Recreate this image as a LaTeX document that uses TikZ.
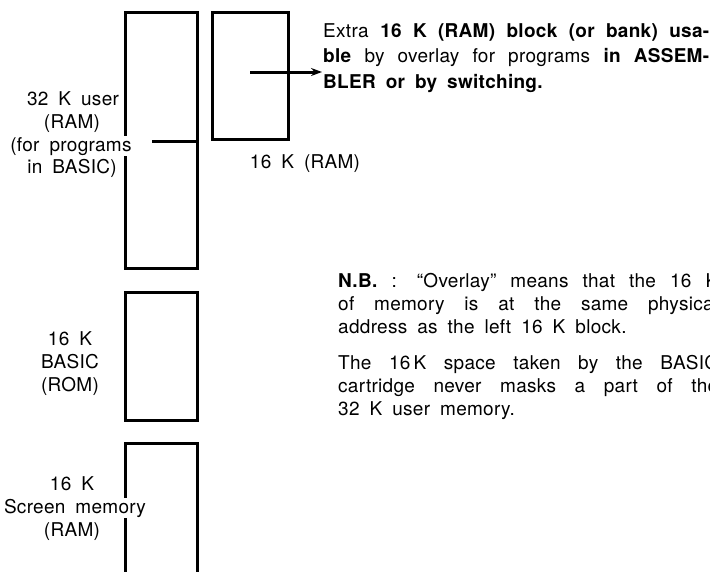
\documentclass[tikz,border=0pt]{standalone}
\usepackage{fontspec}
\setmainfont{TeX Gyre Heros}[LetterSpace=1.5,WordSpace=1.8]
\usetikzlibrary{arrows.meta}
\begin{document}
\begin{tikzpicture}[x=1pt,y=-1pt,
  blk/.style={draw, line width=3pt, inner sep=0pt, outer sep=0pt},
  lbl/.style={font=\fontsize{19}{23}\selectfont, fill=white, inner sep=1pt, anchor=base},
  conn/.style={line width=3pt},
  para/.style={font=\fontsize{19}{23}\selectfont, inner sep=0pt, anchor=base west, align=justify},
  ]
\useasboundingbox (0,0) rectangle (710,571);
\fill[white] (0,0) rectangle (710,571);

% memory blocks
\node[blk, minimum width=72pt, minimum height=256pt] (ram32) at (161,140) {};
\node[blk, minimum width=76pt, minimum height=127pt] (ram16) at (250,75.5) {};
\node[blk, minimum width=72pt, minimum height=128pt] (rom) at (161,356) {};
\coordinate (scrBL) at (125,580);
\coordinate (scrTL) at (125,443);
\coordinate (scrTR) at (197,443);
\coordinate (scrBR) at (197,580);
\draw[line width=3pt] (scrBL) -- (scrTL) -- (scrTR) -- (scrBR);

% overlay divider inside 32 K block
\coordinate (divL) at (152,141);
\draw[conn] (divL) -- (ram32.east |- divL);

% left labels
\node[lbl] (l1) at (73,105) {32 K user};
\node[lbl] (l2) at (72,128) {(RAM)};
\node[lbl] (l3) at (71,151) {(for programs};
\node[lbl] (l4) at (72,173) {in BASIC)};

\node[lbl] (b1) at (70,345) {16 K};
\node[lbl] (b2) at (70,368) {BASIC};
\node[lbl] (b3) at (70,391) {(ROM)};

\node[lbl] (s1) at (72,490) {16 K};
\node[lbl] (s2) at (75,513) {Screen memory};
\node[lbl] (s3) at (72,536) {(RAM)};

\node[lbl] (r16) at (305,168) {16 K (RAM)};

% extra block text and arrow
\node[para, font=\fontsize{19}{25.5}\selectfont, text width=386pt] (extra) at (323,37)
  {Extra \textbf{16 K (RAM) block (or bank) usa-}\linebreak
   \textbf{ble} by overlay for programs \textbf{in ASSEM-}\linebreak
   \textbf{BLER or by switching.}};
\coordinate (arrS) at (250,72);
\coordinate (arrE) at (322,72);
\draw[conn, -{Stealth[length=11pt,width=8pt]}] (arrS) -- (arrE);

% N.B. notes
\begin{scope}
\clip (0,0) rectangle (710,571);
\node[para, text width=380pt] (nb1) at (338,287)
  {\textbf{N.B.} : ``Overlay'' means that the 16~K\linebreak
   of memory is at the same physical\linebreak
   address as the left 16~K block.};
\node[para, text width=380pt] (nb2) at (338,369)
  {The 16\,K space taken by the BASIC\linebreak
   cartridge never masks a part of the\linebreak
   32~K user memory.};
\end{scope}
\end{tikzpicture}
\end{document}
